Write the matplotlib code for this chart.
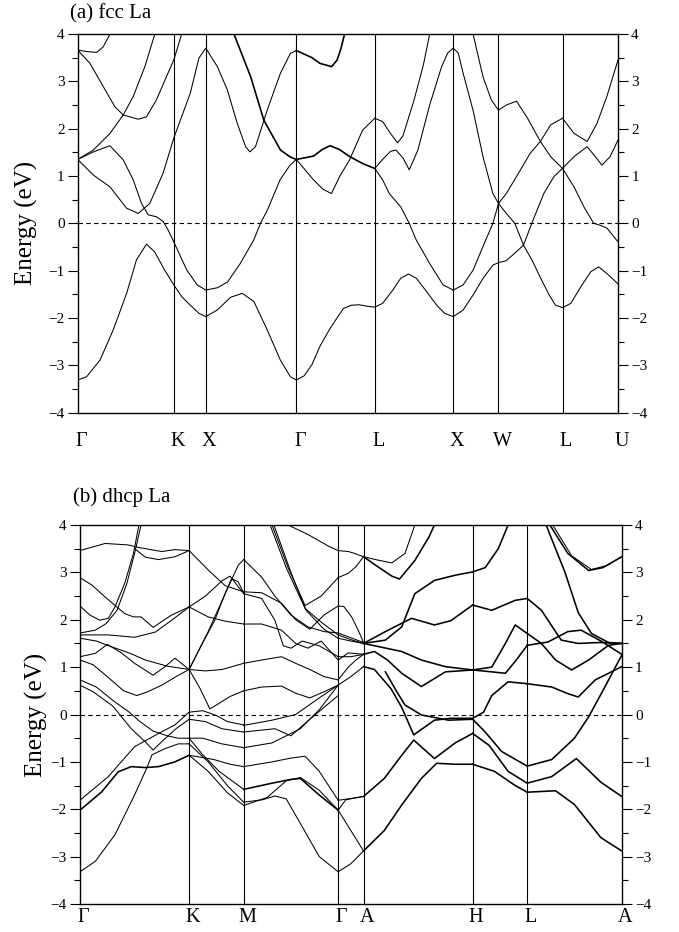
import numpy as np
import matplotlib.pyplot as plt
from matplotlib.ticker import MultipleLocator
from matplotlib.transforms import ScaledTranslation

plt.rcParams['font.family'] = ['Liberation Serif', 'DejaVu Serif']

# ---- (a) fcc La : high-symmetry path, k in units of 2pi/a
fcc_labels = ['Γ', 'K', 'X', 'Γ', 'L', 'X', 'W', 'L', 'U']
fcc_kpts = [0.0, 1.0607, 1.4142, 2.4142, 3.2802, 4.1463, 4.6463, 5.3534, 5.9658]

# bands as (path position, energy); path position = segment index + fraction
fcc_band1 = [(0, -3.31), (0.093, -3.24), (0.232, -2.89), (0.370, -2.25), (0.509, -1.48),
             (0.612, -0.77), (0.716, -0.44), (0.80, -0.60), (0.906, -0.99), (1.0, -1.30),
             (1.25, -1.55), (1.516, -1.73), (1.785, -1.90), (2.0, -1.97), (2.128, -1.83),
             (2.275, -1.56), (2.403, -1.48), (2.531, -1.65), (2.678, -2.25), (2.824, -2.89),
             (2.934, -3.24), (3.0, -3.31), (3.1, -3.22), (3.2, -2.98), (3.3, -2.6),
             (3.43, -2.22), (3.53, -1.97), (3.6, -1.80), (3.7, -1.73), (3.8, -1.72),
             (3.9, -1.75), (4.0, -1.77), (4.10, -1.69), (4.23, -1.41), (4.33, -1.16),
             (4.43, -1.07), (4.53, -1.16), (4.66, -1.44), (4.79, -1.73), (4.89, -1.90),
             (5.0, -1.97), (5.22, -1.83), (5.44, -1.51), (5.66, -1.16), (5.88, -0.88),
             (6.0, -0.83), (6.12, -0.79), (6.255, -0.63), (6.39, -0.46), (6.52, -0.77),
             (6.66, -1.16), (6.79, -1.51), (6.89, -1.73), (7.0, -1.78), (7.15, -1.69),
             (7.33, -1.34), (7.51, -1.02), (7.65, -0.92), (7.80, -1.06), (8.0, -1.28)]
fcc_band2 = [(0, 1.35), (0.163, 1.02), (0.336, 0.77), (0.509, 0.32), (0.63, 0.21),
             (0.75, 0.42), (0.889, 1.06), (1.0, 1.80), (1.516, 2.75), (1.785, 3.49),
             (2.0, 3.70), (2.128, 3.31), (2.238, 2.82), (2.348, 2.11), (2.44, 1.62),
             (2.487, 1.51), (2.549, 1.62), (2.678, 2.39), (2.824, 3.17), (2.934, 3.59),
             (3.0, 3.65)]
fcc_band3 = [(0, 1.35), (0.163, 1.51), (0.336, 1.64), (0.474, 1.34), (0.578, 0.92),
             (0.664, 0.42), (0.734, 0.18), (0.82, 0.14), (0.889, 0.04), (0.941, -0.14),
             (1.0, -0.39), (1.409, -0.99), (1.731, -1.30), (2.0, -1.41), (2.128, -1.36),
             (2.24, -1.24), (2.38, -0.85), (2.53, -0.35), (2.604, 0.0), (2.68, 0.28),
             (2.82, 0.92), (2.93, 1.23), (3.0, 1.35)]
fcc_band4 = [(0, 1.35), (0.163, 1.55), (0.336, 1.90), (0.474, 2.29), (0.56, 2.24),
             (0.63, 2.20), (0.716, 2.25), (0.82, 2.61), (0.924, 3.10), (1.0, 3.45),
             (1.247, 4.0)]
fcc_band5 = [(0, 3.66), (0.128, 3.38), (0.266, 2.89), (0.388, 2.46), (0.474, 2.29),
             (0.578, 2.68), (0.699, 3.31), (0.803, 4.0)]
fcc_band6 = [(0, 3.66), (0.093, 3.63), (0.197, 3.61), (0.266, 3.73), (0.336, 4.0)]
fcc_band7 = [(3.0, 1.35), (3.218, 0.92), (3.34, 0.72), (3.448, 0.63), (3.552, 0.99),
             (3.678, 1.34), (3.845, 1.97), (4.0, 2.22)]
# doubly degenerate bands (drawn heavier)
fcc_thick = [
    [(2.311, 4.0), (2.495, 3.10), (2.641, 2.18), (2.824, 1.55), (2.934, 1.40),
     (3.0, 1.35), (3.218, 1.42), (3.33, 1.56), (3.43, 1.64), (3.55, 1.56),
     (3.68, 1.41), (3.85, 1.26), (4.0, 1.16)],
    [(3.0, 3.65), (3.2, 3.50), (3.3, 3.38), (3.45, 3.31), (3.52, 3.45),
     (3.57, 3.70), (3.615, 4.0)],
]
fcc_lx = [
    [(4.0, 1.16), (4.1, 1.35), (4.2, 1.52), (4.27, 1.55), (4.36, 1.38), (4.44, 1.13),
     (4.55, 1.55), (4.7, 2.5), (4.85, 3.3), (4.93, 3.6), (5.0, 3.70)],
    [(4.0, 2.22), (4.1, 2.15), (4.2, 1.90), (4.29, 1.70), (4.36, 1.85), (4.5, 2.60),
     (4.62, 3.35), (4.70, 4.0)],
    [(4.0, 1.16), (4.10, 0.92), (4.185, 0.63), (4.33, 0.35), (4.44, 0.0), (4.528, -0.35),
     (4.70, -0.85), (4.871, -1.30), (5.0, -1.41)],
]
fcc_xw = [
    [(5.0, 3.70), (5.11, 3.6), (5.219, 3.17), (5.438, 2.39), (5.657, 1.41), (5.876, 0.63),
     (6.0, 0.42)],
    [(5.438, 4.0), (5.657, 3.10), (5.84, 2.61), (6.0, 2.39)],
    [(5.0, -1.41), (5.219, -1.30), (5.438, -0.99), (5.657, -0.49), (5.876, 0.0), (6.0, 0.42)],
]
fcc_wl = [
    [(6.0, 2.39), (6.122, 2.50), (6.282, 2.58), (6.441, 2.25), (6.654, 1.73), (6.814, 1.41),
     (7.0, 1.16)],
    [(6.0, 0.42), (6.122, 0.63), (6.282, 0.99), (6.495, 1.48), (6.654, 1.73), (6.814, 2.08),
     (7.0, 2.22)],
    [(6.0, 0.42), (6.122, 0.21), (6.255, 0.0), (6.39, -0.46), (6.52, 0.0), (6.707, 0.63),
     (6.867, 0.99), (7.0, 1.16)],
]
fcc_lu = [
    [(7.0, 2.22), (7.207, 1.90), (7.444, 1.73), (7.621, 2.11), (7.799, 2.68), (8.0, 3.45)],
    [(7.0, 1.16), (7.207, 1.41), (7.444, 1.62), (7.59, 1.41), (7.71, 1.23), (7.858, 1.41),
     (8.0, 1.76)],
    [(7.0, 1.16), (7.207, 0.77), (7.385, 0.35), (7.562, 0.0), (7.68, -0.04), (7.80, -0.10),
     (8.0, -0.39)],
]

# ---- (b) dhcp La : k in units of 1/a (c/a = 3.225)
dhcp_labels = ['Γ', 'K', 'M', 'Γ', 'A', 'H', 'L', 'A']
dhcp_kpts = [0.0, 4.1888, 6.2832, 9.9108, 10.8848, 15.0736, 17.1680, 20.7956]

# bands per segment, as (fraction along segment, energy)
dhcp_GK = [
    [(0, 3.46), (0.23, 3.61), (0.44, 3.58), (0.55, 3.52), (0.75, 3.44), (0.87, 3.48), (1, 3.46)],
    [(0.5, 3.50), (0.6, 3.32), (0.72, 3.27), (0.87, 3.33), (1, 3.46)],
    [(0, 2.29), (0.09, 2.10), (0.18, 1.99), (0.26, 2.03), (0.32, 2.27), (0.41, 2.77),
     (0.49, 3.40), (0.54, 4.0)],
    [(0, 1.72), (0.14, 1.78), (0.24, 1.92), (0.34, 2.20), (0.43, 2.77), (0.50, 3.40), (0.56, 4.0)],
    [(0, 2.89), (0.11, 2.73), (0.23, 2.48), (0.41, 2.13), (0.49, 2.06), (0.56, 2.06),
     (0.67, 1.84), (0.84, 2.10), (1, 2.27)],
    [(0, 1.68), (0.26, 1.68), (0.5, 1.63), (0.69, 1.74), (0.84, 1.99), (1, 2.27)],
    [(0, 1.61), (0.15, 1.55), (0.3, 1.42), (0.45, 1.30), (0.6, 1.15), (0.8, 1.02), (1, 0.95)],
    [(0, 1.22), (0.14, 1.29), (0.25, 1.48), (0.38, 1.30), (0.5, 1.08), (0.67, 0.83),
     (0.78, 1.01), (0.87, 1.19), (1, 0.95)],
    [(0, 1.15), (0.12, 1.05), (0.26, 0.78), (0.4, 0.50), (0.52, 0.40), (0.62, 0.48),
     (0.75, 0.62), (0.88, 0.80), (1, 0.95)],
    [(0, 0.73), (0.15, 0.58), (0.3, 0.30), (0.45, 0.05), (0.55, -0.15), (0.67, -0.35),
     (0.8, -0.45), (0.9, -0.5), (1, -0.5)],
    [(0, 0.62), (0.12, 0.48), (0.3, 0.18), (0.47, -0.30), (0.6, -0.58), (0.67, -0.75),
     (0.76, -0.55), (0.88, -0.30), (1, -0.10)],
    [(0, -1.81), (0.26, -1.31), (0.5, -0.68), (0.72, -0.40), (0.87, -0.22), (1, 0.05)],
    [(0, -3.32), (0.14, -3.10), (0.32, -2.54), (0.5, -1.70), (0.61, -1.14), (0.66, -0.85),
     (0.78, -0.72), (0.9, -0.62), (1, -0.62)],
]
dhcp_GK_thick = [
    [(0, -2.02), (0.2, -1.63), (0.35, -1.21), (0.47, -1.10), (0.6, -1.12), (0.72, -1.10),
     (0.87, -1.0), (1, -0.86)],
]
dhcp_KM = [
    [(0, 3.46), (0.35, 3.05), (0.66, 2.72), (1, 2.59)],
    [(0, 2.27), (0.35, 2.06), (0.66, 1.97), (1, 1.91)],
    [(0, 2.27), (0.3, 2.50), (0.6, 2.82), (0.75, 2.92), (1, 2.55)],
    [(0, 0.95), (0.35, 1.75), (0.7, 2.65), (0.9, 3.15), (1, 3.27)],
    [(0, 0.95), (0.22, 1.45), (0.47, 1.99), (0.66, 2.55), (0.78, 2.87), (0.9, 2.80), (1, 2.57)],
    [(0, 0.95), (0.3, 0.92), (0.6, 0.95), (1, 1.08)],
    [(0, 0.95), (0.2, 0.55), (0.38, 0.12), (0.5, 0.2), (0.75, 0.38), (1, 0.50)],
    [(0, 0.05), (0.25, 0.08), (0.5, -0.02), (0.7, -0.15), (1, -0.22)],
    [(0, -0.1), (0.3, -0.15), (0.6, -0.3), (1, -0.37)],
    [(0, -0.5), (0.25, -0.5), (0.6, -0.62), (1, -0.70)],
    [(0, -0.5), (0.25, -0.85), (0.55, -1.2), (1, -1.58)],
    [(0, -0.62), (0.35, -1.0), (0.7, -1.5), (1, -1.85)],
    [(0, -0.86), (0.35, -1.2), (0.7, -1.65), (1, -1.92)],
    [(0, -0.86), (0.45, -0.95), (0.75, -1.05), (1, -1.10)],
]
dhcp_MG = [
    [(0, 3.27), (0.19, 2.9), (0.33, 2.5), (0.5, 2.1), (0.68, 1.85), (0.85, 1.75), (1, 1.72)],
    [(0.47, 4.0), (0.68, 3.8), (0.9, 3.55), (1, 3.46)],
    [(0.28, 4.0), (0.45, 3.1), (0.65, 2.24), (0.82, 1.95), (1, 1.68)],
    [(0.30, 4.0), (0.47, 3.1), (0.65, 2.30), (0.82, 2.5), (1, 2.89)],
    [(0.32, 4.0), (0.5, 3.0), (0.66, 2.2), (0.85, 1.8), (1, 1.61)],
    [(0, 2.59), (0.19, 2.57), (0.4, 2.35), (0.55, 2.0), (0.7, 1.80), (0.85, 2.1), (1, 2.29)],
    [(0, 2.55), (0.19, 2.45), (0.33, 1.99), (0.42, 1.45), (0.5, 1.40), (0.62, 1.55),
     (0.8, 1.45), (1, 1.22)],
    [(0, 1.91), (0.19, 1.91), (0.4, 1.78), (0.55, 1.5), (0.68, 1.40), (0.82, 1.55), (1, 1.15)],
    [(0, 1.08), (0.19, 1.15), (0.4, 1.22), (0.55, 1.08), (0.7, 0.95), (0.85, 0.80), (1, 0.73)],
    [(0, 0.50), (0.19, 0.58), (0.4, 0.60), (0.55, 0.45), (0.7, 0.35), (0.85, 0.48), (1, 0.62)],
    [(0, -0.23), (0.3, -0.12), (0.55, 0.0), (0.8, 0.35), (1, 0.62)],
    [(0, -0.37), (0.33, -0.3), (0.5, -0.45), (0.7, -0.1), (1, 0.4)],
    [(0, -0.70), (0.3, -0.60), (0.6, -0.30), (0.8, 0.1), (1, 0.62)],
    [(0, -1.10), (0.3, -1.0), (0.5, -0.92), (0.65, -0.88), (0.8, -1.2), (1, -1.81)],
    [(0, -1.85), (0.2, -1.80), (0.33, -1.72), (0.45, -1.78), (0.6, -2.3), (0.8, -3.0), (1, -3.32)],
    [(0, -1.92), (0.25, -1.75), (0.45, -1.4), (0.6, -1.33), (0.8, -1.6), (1, -2.02)],
]
dhcp_MG_thick = [
    [(0, -1.58), (0.3, -1.45), (0.5, -1.37), (0.6, -1.35), (0.8, -1.7), (1, -2.02)],
]
dhcp_GA = [
    [(0, 3.46), (0.4, 3.44), (0.65, 3.40), (1, 3.33)],
    [(0, 2.89), (0.4, 2.98), (0.7, 3.12), (1, 3.33)],
    [(0, 2.29), (0.22, 2.28), (0.53, 2.06), (0.79, 1.78), (1, 1.52)],
    [(0, 1.72), (0.5, 1.62), (1, 1.52)],
    [(0, 1.68), (0.5, 1.58), (1, 1.50)],
    [(0, 1.61), (0.5, 1.55), (1, 1.50)],
    [(0, 1.22), (0.5, 1.22), (1, 1.27)],
    [(0, 1.15), (0.4, 1.30), (1, 1.27)],
    [(0, 0.73), (0.4, 1.0), (0.7, 1.15), (1, 1.27)],
    [(0, 0.62), (0.5, 0.8), (1, 1.01)],
    [(0, -1.81), (0.4, -1.78), (1, -1.73)],
    [(0, -2.02), (0.3, -1.80), (1, -1.73)],
    [(0, -2.02), (0.5, -2.45), (1, -2.88)],
    [(0, -3.32), (0.5, -3.15), (1, -2.88)],
]
# on the A-H-L-A plane the bands stick together in pairs (drawn heavier)
dhcp_AH = [
    [(0, 3.33), (0.13, 3.12), (0.26, 2.92), (0.33, 2.86), (0.47, 3.25), (0.6, 3.75), (0.65, 4.0)],
    [(0, 1.50), (0.2, 1.57), (0.35, 1.85), (0.47, 2.55), (0.65, 2.83), (0.84, 2.94), (1, 3.01)],
    [(0, 1.50), (0.2, 1.75), (0.44, 2.03), (0.65, 1.89), (0.8, 1.98), (1, 2.31)],
    [(0, 1.50), (0.35, 1.33), (0.53, 1.15), (0.75, 1.01), (1, 0.94)],
    [(0, 1.27), (0.1, 1.33), (0.22, 1.15), (0.35, 0.87), (0.53, 0.59), (0.75, 0.90), (1, 0.94)],
    [(0, 1.01), (0.1, 0.95), (0.25, 0.55), (0.35, 0.15), (0.46, -0.43), (0.65, -0.12),
     (0.8, -0.08), (1, -0.08)],
    [(0.2, 0.9), (0.3, 0.5), (0.38, 0.2), (0.53, -0.01), (0.78, -0.12), (1, -0.10)],
    [(0, -1.73), (0.19, -1.35), (0.35, -0.86), (0.46, -0.54), (0.65, -0.93), (0.84, -0.6),
     (1, -0.40)],
    [(0, -2.88), (0.19, -2.45), (0.35, -1.91), (0.53, -1.35), (0.67, -1.03), (0.84, -1.05),
     (1, -1.05)],
]
dhcp_AH_thin = [
    [(0, 3.33), (0.13, 3.26), (0.26, 3.2), (0.38, 3.4), (0.47, 4.0)],
]
dhcp_HL = [
    [(0, 3.01), (0.23, 3.1), (0.47, 3.5), (0.65, 4.0)],
    [(0, 2.31), (0.35, 2.2), (0.78, 2.41), (1, 2.45)],
    [(0, 0.94), (0.35, 1.0), (0.6, 1.5), (0.78, 1.89), (1, 1.71)],
    [(0, 0.94), (0.35, 0.9), (0.6, 0.87), (0.8, 1.15), (1, 1.46)],
    [(0, -0.08), (0.2, 0.05), (0.35, 0.4), (0.65, 0.69), (1, 0.65)],
    [(0, -0.10), (0.23, -0.37), (0.53, -0.78), (1, -1.09)],
    [(0, -0.40), (0.3, -0.65), (0.65, -1.2), (1, -1.45)],
    [(0, -1.05), (0.4, -1.2), (0.78, -1.5), (1, -1.64)],
]
dhcp_LA = [
    [(0.24, 4.0), (0.43, 3.4), (0.65, 3.04), (0.8, 3.1), (1, 3.33)],
    [(0.2, 4.0), (0.4, 3.0), (0.54, 2.15), (0.68, 1.71), (0.86, 1.52), (1, 1.50)],
    [(0, 2.45), (0.15, 2.2), (0.36, 1.57), (0.54, 1.5), (0.77, 1.52), (1, 1.50)],
    [(0, 1.71), (0.15, 1.5), (0.3, 1.15), (0.47, 0.94), (0.65, 1.15), (0.86, 1.46), (1, 1.50)],
    [(0, 1.46), (0.22, 1.53), (0.43, 1.75), (0.57, 1.78), (0.79, 1.54), (1, 1.27)],
    [(0, 0.65), (0.26, 0.58), (0.43, 0.44), (0.54, 0.37), (0.72, 0.73), (1, 1.01)],
    [(0, -1.09), (0.26, -0.95), (0.5, -0.5), (0.65, -0.05), (0.8, 0.5), (1, 1.25)],
    [(0, -1.45), (0.26, -1.31), (0.52, -0.93), (0.78, -1.43), (1, -1.73)],
    [(0, -1.64), (0.3, -1.61), (0.5, -1.9), (0.78, -2.6), (1, -2.88)],
]
dhcp_LA_thin = [
    [(0.27, 4.0), (0.47, 3.35), (0.68, 3.06), (0.85, 3.15), (1, 3.33)],
]


def draw_line(ax, kpts, pts, lw):
    s, e = zip(*pts)
    k = np.interp(s, np.arange(len(kpts)), kpts)
    ax.plot(k, e, color='k', lw=lw, solid_joinstyle='round')


def setup_axes(ax, kpts, labels, xpad):
    for k in kpts[1:-1]:
        ax.axvline(k, color='k', lw=0.8)
    ax.axhline(0, color='k', lw=0.8, ls=(0, (4, 3)))
    ax.set_xlim(kpts[0], kpts[-1])
    ax.set_ylim(-4, 4)
    ax.set_yticks(range(-4, 5))
    ax.yaxis.set_minor_locator(MultipleLocator(0.5))
    ax.tick_params(axis='y', which='both', direction='out', left=True, right=True,
                   labelleft=True, labelright=True, labelsize=11, width=0.8)
    ax.tick_params(axis='y', which='major', length=7.5, pad=2)
    ax.tick_params(axis='y', which='minor', length=4.5)
    ax.set_xticks(kpts)
    ax.set_xticklabels(labels)
    ax.tick_params(axis='x', length=0, pad=xpad, labelsize=14.5)
    shift = ScaledTranslation(0.035, 0, ax.figure.dpi_scale_trans)
    for lbl in ax.get_xticklabels():
        lbl.set_transform(lbl.get_transform() + shift)
    for sp in ax.spines.values():
        sp.set_linewidth(1.0)


fig = plt.figure(figsize=(6.79, 9.32), dpi=100)
W, H = 679.0, 932.0
ax1 = fig.add_axes([77.7 / W, 1 - 412.7 / H, 540.3 / W, 378.7 / H])
ax2 = fig.add_axes([80.0 / W, 1 - 904.0 / H, 541.7 / W, 379.0 / H])

# panel (a)
for b in [fcc_band1, fcc_band2, fcc_band3, fcc_band4, fcc_band5, fcc_band6, fcc_band7]:
    draw_line(ax1, fcc_kpts, b, 0.75)
for group in [fcc_lx, fcc_xw, fcc_wl, fcc_lu]:
    for b in group:
        draw_line(ax1, fcc_kpts, b, 0.75)
for b in fcc_thick:
    draw_line(ax1, fcc_kpts, b, 1.2)
setup_axes(ax1, fcc_kpts, fcc_labels, 14)
ax1.set_ylabel('Energy (eV)', fontsize=18)
ax1.yaxis.set_label_coords(-0.0735, 0.5)

# panel (b)
thin_segs = [(0, dhcp_GK), (1, dhcp_KM), (2, dhcp_MG), (3, dhcp_GA),
             (4, dhcp_AH_thin), (6, dhcp_LA_thin)]
heavy_segs = [(0, dhcp_GK_thick), (2, dhcp_MG_thick), (4, dhcp_AH), (5, dhcp_HL),
              (6, dhcp_LA)]
for i, seg in thin_segs:
    for b in seg:
        draw_line(ax2, dhcp_kpts, [(i + f, e) for f, e in b], 0.75)
for i, seg in heavy_segs:
    for b in seg:
        draw_line(ax2, dhcp_kpts, [(i + f, e) for f, e in b], 1.15)
setup_axes(ax2, dhcp_kpts, dhcp_labels, 3)
ax2.set_ylabel('Energy (eV)', fontsize=18)
ax2.yaxis.set_label_coords(-0.059, 0.5)

fig.text(70 / W, 1 - 14 / H, '(a) fcc La', fontsize=15, va='center', ha='left')
fig.text(73 / W, 1 - 497 / H, '(b) dhcp La', fontsize=15, va='center', ha='left')

fig.savefig('out.png', dpi=100)
